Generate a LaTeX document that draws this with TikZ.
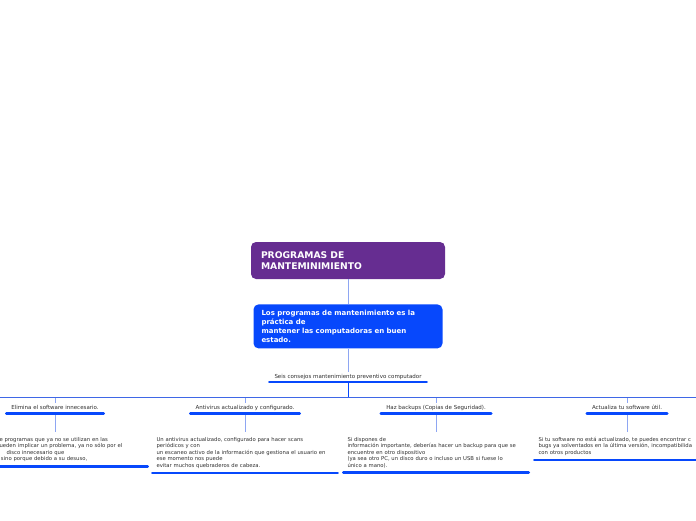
\documentclass[tikz,border=0pt]{standalone}
\usepackage{fontspec}
\setmainfont{DejaVu Sans}
\usepackage{xcolor}
\usepackage{tikz}
\usetikzlibrary{positioning}
\definecolor{mmpurple}{HTML}{662D91}
\definecolor{mmblue}{HTML}{0748FC}
\definecolor{busblue}{HTML}{3F67E6}
\definecolor{linkblue}{HTML}{8EA6F2}
\definecolor{inkgray}{HTML}{2E2E2E}

\begin{document}
\begin{tikzpicture}[x=1pt,y=-1pt,
    topic/.style={rounded corners=5pt,fill=mmpurple,text=white,
      font=\fontsize{9.2}{11}\selectfont\bfseries,align=left,
      text width=174pt,inner xsep=10pt,minimum height=37pt},
    info/.style={rounded corners=5pt,fill=mmblue,text=white,
      font=\fontsize{7}{9}\selectfont\bfseries,align=left,
      text width=173pt,inner xsep=8pt,minimum height=44pt},
    tip/.style={font=\fontsize{5.5}{6.5}\selectfont,text=inkgray,
      text height=4pt,text depth=1pt,inner ysep=2.5pt},
    detail/.style={font=\fontsize{5.3}{6.5}\selectfont,text=inkgray,align=left,
      text width=177pt,inner xsep=4pt,inner ysep=4.5pt},
    uline/.style={draw=mmblue,line width=2.6pt,line cap=round},
    link/.style={draw=linkblue,line width=0.9pt},
    bus/.style={draw=busblue,line width=0.8pt}]
    \clip (0,0) rectangle (696,520);
    \node[topic] (title) at (348,260.5) {PROGRAMAS DE\\MANTEMINIMIENTO};
    \node[info,below=25pt of title] (info) {Los programas de mantenimiento es la\\
      práctica de\\mantener las computadoras en buen\\estado.};
    \node[tip,minimum width=157pt,below=23pt of info] (seis) {
      Seis consejos mantenimiento preventivo computador};
    \coordinate[below=16pt of seis] (hub);
    \coordinate (busL) at (-40,397);
    \coordinate (busR) at (740,397);
    \node[tip,minimum width=97pt,anchor=north] (sub1) at (55,403) {Elimina el software innecesario.};
    \node[tip,minimum width=109pt,anchor=north] (sub2) at (245,403) {Antivirus actualizado y configurado.};
    \node[tip,minimum width=110pt,anchor=north] (sub3) at (436,403) {Haz backups (Copias de Seguridad).};
    \node[tip,minimum width=80pt,anchor=north] (sub4) at (627,403) {Actualiza tu software útil.};
    \node[detail,below=19pt of sub1] (det1) {\hspace*{33pt}\parbox[t]{143pt}{\raggedright
      e programas que ya no se utilizan en las\\
      ueden implicar un problema, ya no sólo por el\\
      \hspace*{7pt}disco innecesario que\\
      \hspace*{1.5pt}sino porque debido a su desuso,}};
    \node[detail,below=19pt of sub2] (det2) {Un antivirus actualizado, configurado para hacer scans\\
      periódicos y con\\
      un escaneo activo de la información que gestiona el usuario en\\
      ese momento nos puede\\
      evitar muchos quebraderos de cabeza.};
    \node[detail,below=19pt of sub3] (det3) {Si dispones de\\
      información importante, deberías hacer un backup para que se\\
      encuentre en otro dispositivo\\
      (ya sea otro PC, un disco duro o incluso un USB si fuese lo\\
      único a mano).};
    \node[detail,below=19pt of sub4] (det4) {Si tu software no está actualizado, te puedes encontrar c\\
      bugs ya solventados en la última versión, incompatibilida\\
      con otros productos};
    % connectors
    \draw[link] (title) -- (info);
    \draw[link] (info) -- (seis);
    \draw[draw=mmblue,line width=0.8pt] (seis.south) -- (hub);
    \draw[bus] (busL) -- (busR);
    \draw[link] (sub1.north |- hub) -- (sub1.north);
    \draw[link] (sub2.north |- hub) -- (sub2.north);
    \draw[link] (sub3.north |- hub) -- (sub3.north);
    \draw[link] (sub4.north |- hub) -- (sub4.north);
    \draw[link] (sub1) -- (det1);
    \draw[link] (sub2) -- (det2);
    \draw[link] (sub3) -- (det3);
    \draw[link] (sub4) -- (det4);
    % underlines
    \draw[uline] (seis.south west) -- (seis.south east);
    \draw[uline] (sub1.south west) -- (sub1.south east);
    \draw[uline] (sub2.south west) -- (sub2.south east);
    \draw[uline] (sub3.south west) -- (sub3.south east);
    \draw[uline] (sub4.south west) -- (sub4.south east);
    \draw[uline] (det1.south west) -- (det1.south east);
    \draw[uline] (det2.south west) -- (det2.south east);
    \draw[uline] (det3.south west) -- (det3.south east);
    \draw[uline] (det4.south west) -- (det4.south east);
  \end{tikzpicture}
\end{document}
